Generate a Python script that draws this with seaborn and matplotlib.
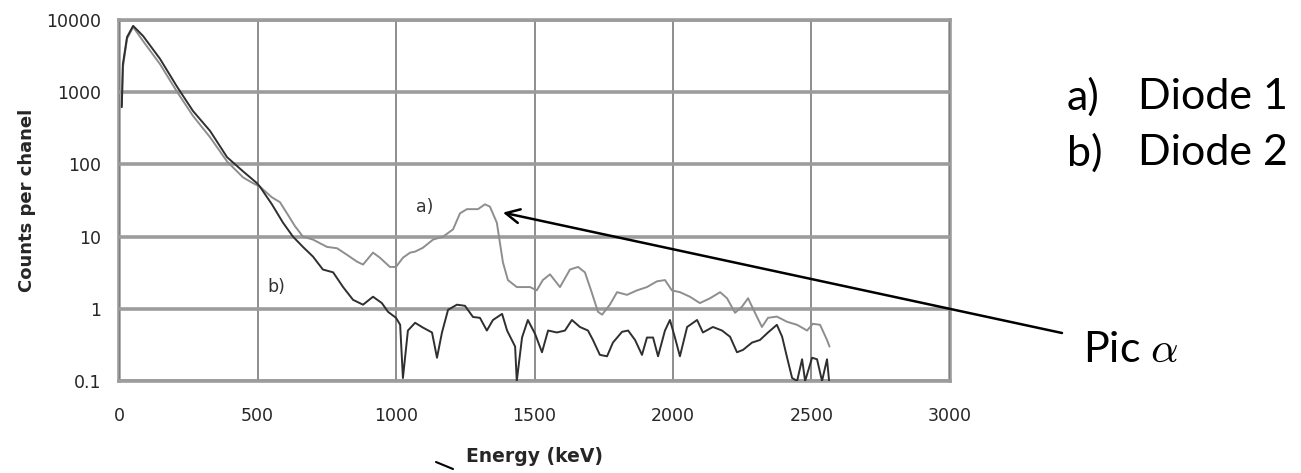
#!/usr/bin/env python3

import matplotlib
matplotlib.use("Agg")
import matplotlib.pyplot as plt
import seaborn as sns
from matplotlib.lines import Line2D
from pandas import DataFrame

# spectrum a) diode 1 (grey curve)
energy_a = [10, 14, 29, 51, 87, 148, 209, 267, 329, 390, 448, 480, 509, 552, 581,
            610, 635, 664, 700, 751, 787, 823, 859, 881, 917, 942, 978, 1000, 1025,
            1051, 1069, 1097, 1134, 1170, 1206, 1231, 1256, 1296, 1321, 1339, 1364,
            1375, 1386, 1404, 1436, 1484, 1508, 1530, 1556, 1592, 1628, 1657, 1682,
            1707, 1729, 1744, 1772, 1798, 1834, 1870, 1906, 1942, 1971, 1996, 2025,
            2061, 2097, 2134, 2170, 2195, 2224, 2249, 2271, 2296, 2321, 2343, 2375,
            2412, 2448, 2484, 2505, 2531, 2556, 2565]
counts_a = [650, 2200, 5500, 8000, 5100, 2450, 1020, 470, 237, 110, 66, 56, 49, 35, 30,
            20, 14, 10, 9.1, 7.2, 6.9, 5.6, 4.5, 4.1, 6.0, 5.1, 3.8, 3.8, 5.1,
            6.0, 6.2, 7.0, 9.1, 10, 12.6, 21, 24, 24, 28, 26, 15.6,
            8.3, 4.4, 2.5, 2.0, 2.0, 1.8, 2.5, 3.0, 2.0, 3.5, 3.8, 3.2,
            1.67, 0.91, 0.83, 1.14, 1.7, 1.56, 1.8, 2.0, 2.4, 2.5, 1.8, 1.7,
            1.47, 1.2, 1.4, 1.7, 1.4, 0.88, 1.07, 1.4, 0.88, 0.56, 0.75, 0.78,
            0.66, 0.6, 0.5, 0.62, 0.6, 0.37, 0.3]

# spectrum b) diode 2 (dark curve)
energy_b = [10, 14, 29, 51, 87, 148, 209, 267, 329, 390, 448, 498, 509, 552, 592,
            628, 664, 700, 736, 773, 809, 845, 881, 917, 949, 971, 1000, 1015, 1025,
            1043, 1069, 1097, 1130, 1148, 1166, 1188, 1220, 1249, 1278, 1303, 1328,
            1350, 1383, 1401, 1430, 1436, 1455, 1476, 1502, 1527, 1549, 1581, 1610,
            1635, 1664, 1693, 1711, 1736, 1762, 1783, 1816, 1838, 1863, 1888, 1906,
            1928, 1946, 1971, 1989, 2007, 2025, 2051, 2087, 2108, 2144, 2177, 2206,
            2231, 2253, 2285, 2314, 2343, 2375, 2394, 2412, 2430, 2448, 2466, 2477,
            2502, 2520, 2538, 2556, 2566]
counts_b = [620, 2450, 5800, 8300, 6000, 2900, 1200, 550, 290, 126, 80, 55, 49, 28, 15.6,
            10, 7.2, 5.3, 3.5, 3.2, 2.0, 1.33, 1.14, 1.47, 1.2, 0.91, 0.75, 0.6, 0.11,
            0.5, 0.64, 0.55, 0.47, 0.21, 0.47, 0.97, 1.14, 1.1, 0.77, 0.75, 0.5,
            0.7, 0.85, 0.5, 0.3, 0.1, 0.4, 0.7, 0.45, 0.25, 0.5, 0.47, 0.5,
            0.7, 0.56, 0.5, 0.37, 0.23, 0.22, 0.34, 0.48, 0.5, 0.37, 0.23, 0.4,
            0.4, 0.22, 0.5, 0.7, 0.4, 0.22, 0.56, 0.7, 0.47, 0.56, 0.5, 0.41,
            0.25, 0.27, 0.34, 0.37, 0.47, 0.6, 0.41, 0.21, 0.11, 0.1, 0.2, 0.1,
            0.21, 0.2, 0.1, 0.2, 0.08]

x_ticks = [0, 500, 1000, 1500, 2000, 2500, 3000]
y_ticks = [0.1, 1, 10, 100, 1000, 10000]
y_tick_labels = ["0.1", "1", "10", "100", "1000", "10000"]


def main():
    sns.set_style("white")
    plt.rcParams['font.family'] = ['DejaVu Sans']
    plt.rcParams['mathtext.fontset'] = 'cm'

    data = DataFrame({
        'energy': energy_a + energy_b,
        'counts': counts_a + counts_b,
        'diode': ['a'] * len(energy_a) + ['b'] * len(energy_b),
    })

    fig = plt.figure(figsize=(13.01, 4.73), dpi=100)
    ax = fig.add_axes([119 / 1301, 1 - 381 / 473, 831 / 1301, 361 / 473])

    sns.lineplot(data=data, x='energy', y='counts', hue='diode',
                 palette={'a': '#8e8e8e', 'b': '#2f2f2f'},
                 estimator=None, linewidth=1.4, legend=False, ax=ax)

    ax.set_yscale('log')
    ax.set_xlim(0, 3000)
    ax.set_ylim(0.1, 10000)
    ax.set_xticks(x_ticks)
    ax.set_xticklabels([str(t) for t in x_ticks])
    ax.set_yticks(y_ticks)
    ax.set_yticklabels(y_tick_labels)
    ax.minorticks_off()

    ax.yaxis.grid(True, color='#9c9c9c', linewidth=2.6)
    ax.xaxis.grid(True, color='#7a7a7a', linewidth=1.2)
    for side in ['top', 'left', 'bottom', 'right']:
        ax.spines[side].set_color('#9c9c9c')
        ax.spines[side].set_linewidth(2.6)
        ax.spines[side].set_zorder(0.5)

    ax.tick_params(axis='both', length=4, width=1.2, color='#888888',
                   labelsize=12.5, labelcolor='#262626')
    ax.tick_params(axis='x', pad=15)
    ax.tick_params(axis='y', pad=9)

    ax.set_xlabel('Energy (keV)', fontsize=13.5, fontweight='bold', color='#262626')
    ax.set_ylabel('Counts per chanel', fontsize=13, fontweight='bold', color='#262626')
    ax.xaxis.set_label_coords(0.5, -0.183)
    ax.yaxis.set_label_coords(-0.1, 0.5)

    ax.text(1105, 26, 'a)', fontsize=12.5, color='#333333', ha='center', va='center')
    ax.text(567, 2.0, 'b)', fontsize=12.5, color='#333333', ha='center', va='center')

    # arrow from "Pic alpha" to the peak of curve a)
    ax.annotate('', xy=(1386, 21.5), xycoords='data',
                xytext=(1062 / 1301, 1 - 333 / 473), textcoords='figure fraction',
                arrowprops=dict(arrowstyle='->', color='black', lw=1.8,
                                mutation_scale=25, shrinkA=0, shrinkB=0),
                annotation_clip=False)

    big = dict(fontsize=31, family=['Lato', 'DejaVu Sans'], color='black', va='center')
    fig.text(1067 / 1301, 1 - 97 / 473, 'a)', **big)
    fig.text(1138 / 1301, 1 - 97 / 473, 'Diode 1', **big)
    fig.text(1067 / 1301, 1 - 153 / 473, 'b)', **big)
    fig.text(1138 / 1301, 1 - 153 / 473, 'Diode 2', **big)
    fig.text(1083 / 1301, 1 - 350 / 473, r'Pic $\alpha$', **big)

    # small stray arrow tip below the axis
    fig.add_artist(Line2D([436 / 1301, 453 / 1301], [1 - 462 / 473, 1 - 469 / 473],
                          color='black', lw=1.5))

    plt.savefig('out.png', dpi=100)


if __name__ == "__main__":
    main()
